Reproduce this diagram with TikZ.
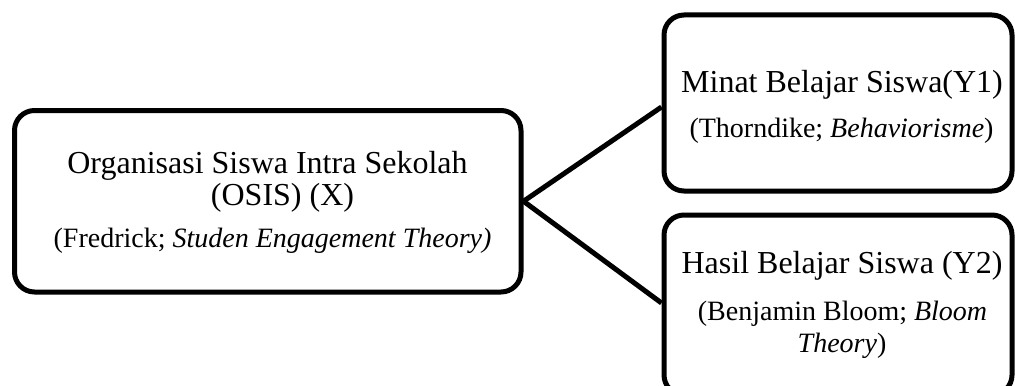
\documentclass[tikz,border=0pt]{standalone}
\usepackage{fontspec}
\setmainfont{Liberation Serif}
\begin{document}
\begin{tikzpicture}[x=0.5pt,y=-0.5pt,
  box/.style={draw=black, line width=2.5pt, rounded corners=10pt, inner sep=0pt},
  big/.style={font=\fontsize{16}{19}\selectfont, inner sep=0pt, anchor=base},
  small/.style={font=\fontsize{14}{17}\selectfont, inner sep=0pt, anchor=base},
  link/.style={line width=2.5pt}]
\clip (0,0) rectangle (1015,385);
\node[box, minimum width=253.25pt, minimum height=90.75pt] (L) at (267.75,201.25) {};
\node[box, minimum width=174pt, minimum height=88pt] (TR) at (838,103) {};
\node[box, minimum width=174pt, minimum height=90pt] (BR) at (838,305) {};
\node[big] (L1) at (267.5,173) {Organisasi Siswa Intra Sekolah};
\node[big] (L2) at (282.5,205) {(OSIS) (X)};
\node[small] (L3) at (272.5,247) {(Fredrick; \textit{Studen Engagement Theory)}};
\node[big] (T1) at (842,92) {Minat Belajar Siswa(Y1)};
\node[small] (T2) at (841.5,137) {(Thorndike; \textit{Behaviorisme})};
\node[big] (B1) at (842,273) {Hasil Belajar Siswa (Y2)};
\node[small] (B2) at (842.5,320) {(Benjamin Bloom; \textit{Bloom}};
\node[small] (B3) at (842,352) {\textit{Theory})};
\draw[link] (L.east) -- ([yshift=-2pt]TR.west);
\draw[link] (L.east) -- ([yshift=1pt]BR.west);
\end{tikzpicture}
\end{document}
